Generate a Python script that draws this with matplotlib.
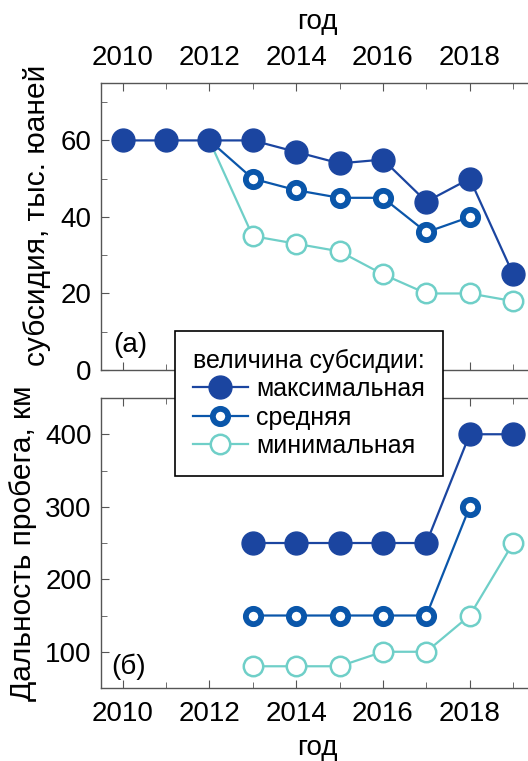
import matplotlib.pyplot as plt
from matplotlib.ticker import MultipleLocator

plt.rcParams['font.family'] = ['Liberation Sans', 'DejaVu Sans']

# верхняя панель: величина субсидии, тыс. юаней
years_max_a = [2010, 2011, 2012, 2013, 2014, 2015, 2016, 2017, 2018, 2019]
subsidy_max = [60, 60, 60, 60, 57, 54, 55, 44, 50, 25]
years_mid_a = [2012, 2013, 2014, 2015, 2016, 2017, 2018]
subsidy_mid = [60, 50, 47, 45, 45, 36, 40]
years_min_a = [2012, 2013, 2014, 2015, 2016, 2017, 2018, 2019]
subsidy_min = [60, 35, 33, 31, 25, 20, 20, 18]

# нижняя панель: дальность пробега, км
years_max_b = [2013, 2014, 2015, 2016, 2017, 2018, 2019]
range_max = [250, 250, 250, 250, 250, 400, 400]
years_mid_b = [2013, 2014, 2015, 2016, 2017, 2018]
range_mid = [150, 150, 150, 150, 150, 300]
years_min_b = [2013, 2014, 2015, 2016, 2017, 2018, 2019]
range_min = [80, 80, 80, 100, 100, 150, 250]

labels = ["максимальная", "средняя", "минимальная"]

C_MAX = "#1b45a0"
C_MID = "#0a56aa"
C_MIN = "#6fcfc8"
SPINE = "#555555"
FS = 20


def draw(ax, xmin, ymin, xmid, ymid, xmax, ymax):
    h_min, = ax.plot(xmin, ymin, color=C_MIN, lw=1.6, marker='o', ms=14,
                     mfc='white', mec=C_MIN, mew=1.8, label=labels[2])
    h_mid, = ax.plot(xmid, ymid, color=C_MID, lw=1.6, marker='o', ms=11,
                     mfc='white', mec=C_MID, mew=4.2, label=labels[1])
    h_max, = ax.plot(xmax, ymax, color=C_MAX, lw=1.6, marker='o', ms=16.5,
                     mfc=C_MAX, mec=C_MAX, label=labels[0])
    return h_max, h_mid, h_min


def style(ax):
    ax.set_xlim(2009.5, 2019.5)
    ax.xaxis.set_major_locator(MultipleLocator(2))
    ax.xaxis.set_minor_locator(MultipleLocator(1))
    ax.tick_params(which='both', direction='in', top=True, bottom=True,
                   left=True, right=False, color=SPINE, labelsize=FS)
    ax.tick_params(which='major', length=6)
    ax.tick_params(which='minor', length=4)
    ax.tick_params(axis='x', pad=9)
    ax.tick_params(axis='y', pad=6.5)
    for s in ax.spines.values():
        s.set_color(SPINE)
        s.set_linewidth(1.0)
    ax.spines['right'].set_visible(False)


fig = plt.figure(figsize=(5.28, 7.61), dpi=100)
ax1 = fig.add_axes([0.191, 0.5138, 0.822, 0.3771])
ax2 = fig.add_axes([0.191, 0.0959, 0.822, 0.3811])

draw(ax1, years_min_a, subsidy_min, years_mid_a, subsidy_mid, years_max_a, subsidy_max)
handles = draw(ax2, years_min_b, range_min, years_mid_b, range_mid, years_max_b, range_max)

style(ax1)
ax1.set_ylim(0, 75)
ax1.yaxis.set_major_locator(MultipleLocator(20))
ax1.yaxis.set_minor_locator(MultipleLocator(10))
ax1.tick_params(labelbottom=False, labeltop=True)
ax1.xaxis.set_label_position('top')
ax1.set_xlabel("год", fontsize=FS, labelpad=11)
ax1.set_ylabel("субсидия, тыс. юаней", fontsize=21.5, labelpad=7, y=0.54)
ax1.text(2009.78, 6.5, "(a)", fontsize=FS, ha='left', va='center')

style(ax2)
ax2.set_ylim(50, 450)
ax2.yaxis.set_major_locator(MultipleLocator(100))
ax2.yaxis.set_minor_locator(MultipleLocator(50))
ax2.set_xlabel("год", fontsize=FS, labelpad=6)
ax2.set_ylabel("Дальность пробега, км", fontsize=21.5, labelpad=6)
ax2.text(2009.75, 80, "(б)", fontsize=FS, ha='left', va='center')

leg = fig.legend(handles=list(handles), title="величина субсидии:",
                 loc='upper left', bbox_to_anchor=(175 / 528, 1 - 331 / 761),
                 fontsize=18, title_fontsize=18, frameon=True, fancybox=False,
                 edgecolor='black', framealpha=1, handlelength=2.2,
                 borderpad=0.7, labelspacing=0.18, handletextpad=0.35,
                 borderaxespad=0)
leg.get_frame().set_linewidth(1.2)

fig.savefig("out.png", dpi=100)
